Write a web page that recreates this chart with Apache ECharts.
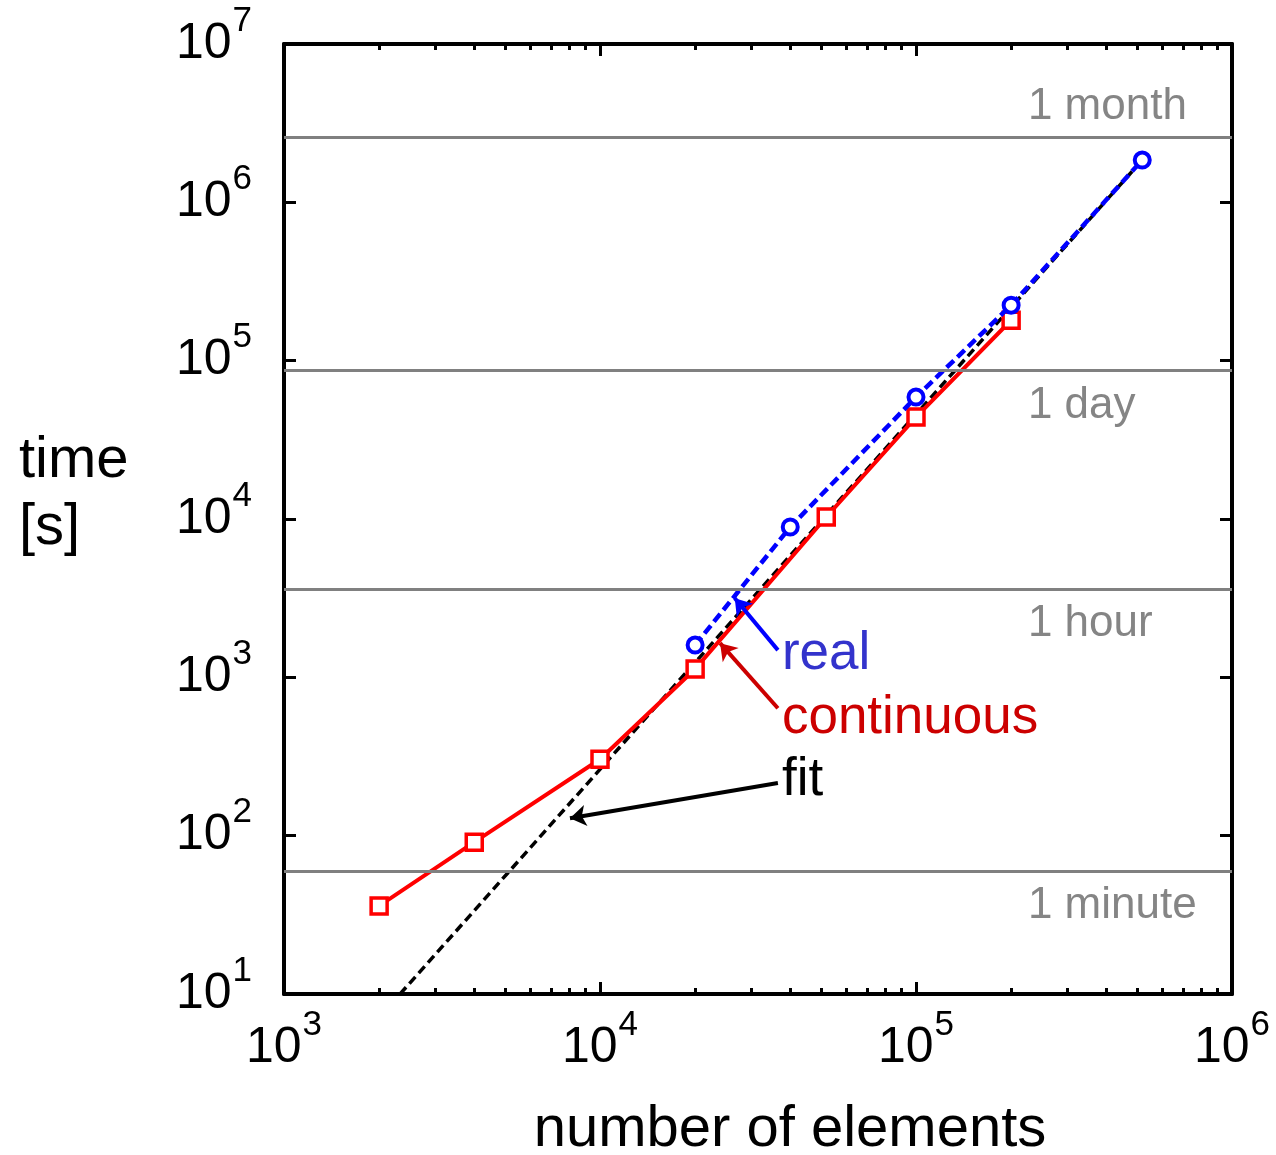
<!DOCTYPE html>
<html>
<head>
<meta charset="utf-8">
<script src="https://cdn.jsdelivr.net/npm/echarts@6/dist/echarts.min.js"></script>
<style>
  html, body { margin: 0; padding: 0; background: #fff; }
  #main { width: 1276px; height: 1155px; }
</style>
</head>
<body>
<div id="main"></div>
<script type="text/javascript">
// measured run times
var continuousN = [2000, 4000, 10000, 20000, 52000, 100000, 200000];
var continuousT = [36, 91, 304, 1130, 10300, 44000, 180000];
var realN = [20000, 40000, 100000, 200000, 520000];
var realT = [1600, 8900, 58900, 224000, 1850000];
// fit line, read at its two ends
var fitN = [2330, 520000];
var fitT = [10, 1850000];

// reference times (s)
var timeMarks = [60, 3600, 86400, 2592000];
var timeNames = ['1 minute', '1 hour', '1 day', '1 month'];

// arrows: tail -> tip, in data units
var noteTexts = ['real', 'continuous', 'fit'];
var noteColors = ['#3333cc', '#cc0000', '#000000'];
var arrowColors = ['#0000ff', '#cc0000', '#000000'];
var noteTails = [[36560, 1486], [36560, 638], [36560, 215]];
var noteTips = [[26700, 3162], [23990, 1644], [8035, 129]];

// minor ticks on the x axis
var minorX = [];
[1e3, 1e4, 1e5].forEach(function (d) {
  for (var k = 2; k <= 9; k++) minorX.push(k * d);
});

var FONT = 'Liberation Sans, Arial, Helvetica, sans-serif';

function zip(a, b) {
  return a.map(function (v, i) { return [v, b[i]]; });
}
function powLabel(v) {
  var e = Math.round(Math.log(v) / Math.LN10);
  return '{b|10}{s|' + e + '}';
}
// superscript is lifted with bottom padding (half of it)
var powRich = {
  b: { fontSize: 50, fontFamily: FONT, color: '#000', lineHeight: 50 },
  s: { fontSize: 35, fontFamily: FONT, color: '#000', lineHeight: 35, padding: [0, 0, 46, 1] }
};

var frameLine = { show: true, onZero: false, lineStyle: { color: '#000', width: 4 } };
var majorTick = { show: true, inside: true, length: 12, lineStyle: { color: '#000', width: 3 } };
var minorTickStyle = { show: true, inside: true, length: 6, customValues: minorX, lineStyle: { color: '#000', width: 3 } };

function xAx(pos, major, withLabel) {
  return {
    type: 'log', logBase: 10, min: 1000, max: 1e6, splitNumber: 3, position: pos,
    axisLine: major ? frameLine : { show: false },
    axisTick: major ? majorTick : minorTickStyle,
    axisLabel: withLabel ? { show: true, margin: 29, formatter: powLabel, rich: powRich } : { show: false },
    splitLine: { show: false },
    minorTick: { show: false }
  };
}

var xAxes = [xAx('bottom', true, true), xAx('bottom', false, false), xAx('top', true, false), xAx('top', false, false)];
xAxes[0].name = 'number of elements';
xAxes[0].nameLocation = 'middle';
xAxes[0].nameGap = 107;
xAxes[0].nameTextStyle = { fontSize: 58, fontFamily: FONT, color: '#000', padding: [0, 0, 0, 64] };

var yAxes = ['left', 'right'].map(function (pos) {
  return {
    type: 'log', logBase: 10, min: 10, max: 1e7, splitNumber: 6, position: pos,
    axisLine: frameLine,
    axisTick: majorTick,
    axisLabel: pos === 'left' ? { show: true, margin: 32, formatter: powLabel, rich: powRich } : { show: false },
    splitLine: { show: false }
  };
});

var myChart = echarts.init(document.getElementById('main'));

var option = {
  backgroundColor: '#fff',
  animation: false,
  title: {
    text: 'time\n[s]',
    left: 14,
    top: 422,
    textStyle: { fontSize: 58, fontWeight: 'normal', fontFamily: FONT, color: '#000', lineHeight: 67 }
  },
  grid: { left: 284, right: 44, top: 44, bottom: 161, containLabel: false, outerBoundsMode: 'none' },
  xAxis: xAxes,
  yAxis: yAxes,
  series: [
    {
      // grey reference lines
      type: 'line', data: [], z: 1, silent: true,
      markLine: {
        silent: true, symbol: 'none', animation: false,
        label: { show: false },
        lineStyle: { color: '#808080', width: 3, type: 'solid' },
        data: timeMarks.map(function (v) { return { yAxis: v }; })
      }
    },
    {
      type: 'scatter', symbolSize: 0, z: 1, silent: true,
      itemStyle: { opacity: 1 },
      data: timeMarks.map(function (v, i) {
        return {
          value: [226000, v],
          label: {
            show: true, position: 'right', distance: 0,
            offset: [0, v > 1e6 ? -30 : 35],
            formatter: timeNames[i],
            fontSize: 44, fontFamily: FONT, color: '#858585'
          }
        };
      })
    },
    {
      name: 'fit', type: 'line', z: 2, showSymbol: false, symbol: 'none',
      data: zip(fitN, fitT),
      lineStyle: { color: '#000', width: 3.5, type: [9, 5] }
    },
    {
      name: 'continuous', type: 'line', z: 3,
      data: zip(continuousN, continuousT),
      symbol: 'rect', symbolSize: 16,
      lineStyle: { color: '#ff0000', width: 4 },
      itemStyle: { color: '#fff', borderColor: '#ff0000', borderWidth: 3.5 }
    },
    {
      name: 'real', type: 'line', z: 4,
      data: zip(realN, realT),
      symbol: 'circle', symbolSize: 15,
      lineStyle: { color: '#0000ff', width: 4.5, type: [10, 5] },
      itemStyle: { color: '#fff', borderColor: '#0000ff', borderWidth: 4 }
    },
    {
      type: 'lines', coordinateSystem: 'cartesian2d', z: 5, silent: true,
      symbol: ['none', 'arrow'], symbolSize: 16,
      data: noteTails.map(function (t, i) {
        return { coords: [t, noteTips[i]], lineStyle: { color: arrowColors[i], width: 4, opacity: 1 } };
      })
    },
    {
      type: 'scatter', symbolSize: 0, z: 5, silent: true,
      itemStyle: { opacity: 1 },
      data: noteTails.map(function (t, i) {
        return {
          value: t,
          label: {
            show: true, position: 'right', distance: 4,
            offset: [0, [4, 10, -3][i]],
            formatter: noteTexts[i],
            fontSize: 53, fontFamily: FONT, color: noteColors[i]
          }
        };
      })
    }
  ]
};

myChart.setOption(option);
</script>
</body>
</html>
